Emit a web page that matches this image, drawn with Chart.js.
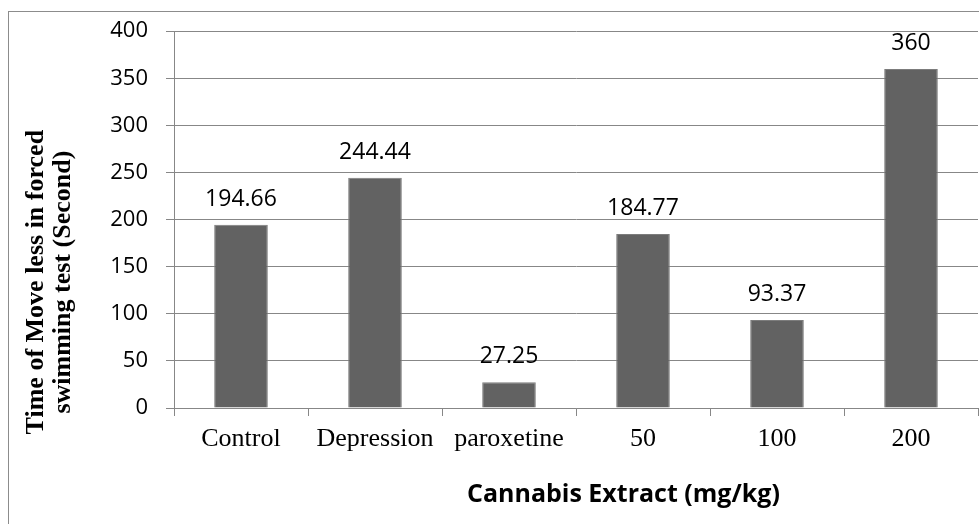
<!DOCTYPE html>
<html>
<head>
<meta charset="utf-8">
<script src="https://cdn.jsdelivr.net/npm/chart.js@4.4.1/dist/chart.umd.min.js"></script>
<style>
  html, body { margin: 0; padding: 0; background: #ffffff; }
  #wrap { position: relative; width: 979px; height: 524px; }
</style>
</head>
<body>
<div id="wrap"><canvas id="c" width="979" height="524"></canvas></div>
<script>
// Groups on the x axis
const categories = ['Control', 'Depression', 'paroxetine', '50', '100', '200'];
// Immobility time per group (seconds)
const immobilityTime = [194.66, 244.44, 27.25, 184.77, 93.37, 360];
// Value axis ticks
const yTicks = [0, 50, 100, 150, 200, 250, 300, 350, 400];
// Axis titles
const xTitle = 'Cannabis Extract (mg/kg)';
const yTitle = ['Time of Move less in forced', 'swimming test (Second)'];

const axisGray = '#878787';
const sansFont = '"Open Sans", "Liberation Sans", sans-serif';
const serifFont = '"Liberation Serif", "DejaVu Serif", serif';

// Frame around the whole chart
const framePlugin = {
  id: 'frame',
  beforeDraw(chart) {
    const ctx = chart.ctx;
    ctx.save();
    ctx.fillStyle = '#ffffff';
    ctx.fillRect(0, 0, chart.width, chart.height);
    ctx.strokeStyle = '#8c8c8c';
    ctx.lineWidth = 1;
    ctx.strokeRect(8.5, 11.5, chart.width + 10, chart.height + 10);
    ctx.restore();
  }
};

// Value labels above each bar
const valueLabels = {
  id: 'valueLabels',
  afterDatasetsDraw(chart) {
    const ctx = chart.ctx;
    const meta = chart.getDatasetMeta(0);
    ctx.save();
    ctx.font = '23px ' + sansFont;
    ctx.fillStyle = '#000000';
    ctx.textAlign = 'center';
    ctx.textBaseline = 'alphabetic';
    meta.data.forEach((bar, i) => {
      ctx.fillText(String(immobilityTime[i]), bar.x, bar.y - 19);
    });
    ctx.restore();
  }
};

// Axis titles, placed relative to the chart area
const axisTitles = {
  id: 'axisTitles',
  afterDraw(chart) {
    const ctx = chart.ctx;
    const area = chart.chartArea;
    ctx.save();
    ctx.fillStyle = '#000000';
    // x title
    ctx.font = 'bold 25px ' + sansFont;
    ctx.textAlign = 'center';
    ctx.textBaseline = 'alphabetic';
    ctx.fillText(xTitle, area.left + (area.right - area.left) * 0.559, 502);
    // y title (two rotated lines)
    ctx.font = 'bold 26px ' + serifFont;
    const cy = area.top + (area.bottom - area.top) * 0.666;
    [43, 70].forEach((bx, i) => {
      ctx.save();
      ctx.translate(bx, cy);
      ctx.rotate(-Math.PI / 2);
      ctx.fillText(yTitle[i], 0, 0);
      ctx.restore();
    });
    ctx.restore();
  }
};

new Chart(document.getElementById('c'), {
  type: 'bar',
  data: {
    labels: categories,
    datasets: [{
      data: immobilityTime,
      backgroundColor: '#626262',
      borderColor: '#7c7c7c',
      borderWidth: 1,
      barPercentage: 0.4,
      categoryPercentage: 1.0
    }]
  },
  options: {
    responsive: false,
    animation: false,
    devicePixelRatio: 1,
    layout: { padding: { top: 27, right: 1, left: 0, bottom: 0 } },
    plugins: {
      legend: { display: false },
      tooltip: { enabled: false }
    },
    scales: {
      x: {
        offset: true,
        grid: {
          offset: true,
          drawOnChartArea: false,
          drawTicks: true,
          tickLength: 8,
          tickColor: axisGray,
          lineWidth: 1
        },
        border: { color: axisGray, width: 1 },
        ticks: {
          font: { family: serifFont, size: 26 },
          color: '#000000',
          padding: 8,
          maxRotation: 0
        },
        afterFit(scale) { scale.height = 116; }
      },
      y: {
        min: 0,
        max: 400,
        afterBuildTicks(scale) { scale.ticks = yTicks.map(v => ({ value: v })); },
        grid: {
          color: axisGray,
          lineWidth: 1,
          drawTicks: true,
          tickLength: 8,
          tickColor: axisGray
        },
        border: { color: axisGray, width: 1 },
        ticks: {
          font: { family: sansFont, size: 22 },
          color: '#000000',
          padding: 18
        },
        afterFit(scale) { scale.width = 174; }
      }
    }
  },
  plugins: [framePlugin, valueLabels, axisTitles]
});
</script>
</body>
</html>
